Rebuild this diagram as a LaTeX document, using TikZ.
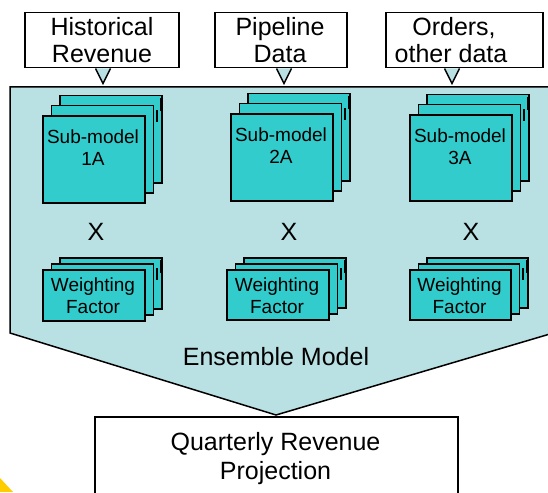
\documentclass[tikz,border=0pt]{standalone}
\usepackage{fontspec}
\setmainfont{Liberation Sans}
\definecolor{pale}{HTML}{B9E0E3}
\definecolor{turq}{HTML}{33CCCC}
\definecolor{gold}{HTML}{FFCC00}

% A stack of three cards: #1 name, (#2,#3) top-left of the front card,
% #4 width, #5 height, #6 offset of the rear card up (pt), #7 label lines,
% #8 baseline of the last label line below the card top
\newcommand{\cardstack}[8]{%
  \node[card, minimum width=#4pt, minimum height=#5pt] (#1back) at (#2+17,#3-#6) {};
  \node[tab, minimum width=3pt, minimum height=13pt] (#1tab) at (#2+17+#4-1,#3-#6+3) {};
  \node[card, minimum width=#4pt, minimum height=#5pt] (#1mid) at (#2+8.5,#3-#6/2) {};
  \node[tab, minimum width=2pt, minimum height=12pt] (#1mark) at (#2+8.5+#4+3,#3-#6/2+5) {};
  \node[card, minimum width=#4pt, minimum height=#5pt] (#1) at (#2,#3) {};
  \node[smalltext, align=center] (#1label) at (#2+#4/2,#3+#8) {#7};
}

\begin{document}
\begin{tikzpicture}[x=1pt,y=-1pt,
  outline/.style={draw=black, line width=1.5pt},
  card/.style={outline, fill=turq, inner sep=0pt, anchor=north west},
  inbox/.style={outline, fill=white, inner sep=0pt, anchor=north west},
  tab/.style={fill=black, inner sep=0pt, anchor=north west},
  bigtext/.style={font=\fontsize{25}{28}\selectfont, inner sep=0pt, anchor=base},
  smalltext/.style={font=\fontsize{19}{21.5}\selectfont, inner sep=0pt, anchor=base},
  pointer/.style={outline, fill=pale}
]
\useasboundingbox (0,0) rectangle (548,492);

% Ensemble model block (pentagon arrow)
\draw[outline, fill=pale] (10,87) -- (560,87) -- (560,331) -- (276,415) -- (10,333) -- cycle;
\node[bigtext] (ensemble) at (276,365) {Ensemble Model};

% Input callouts
\node[inbox, minimum width=154pt, minimum height=55pt] (hist) at (24,12) {};
\node[bigtext] (histA) at (102,36) {Historical};
\node[bigtext] (histB) at (102,63) {Revenue};
\draw[pointer] ([xshift=-7.5pt]hist.south -| 103,0) -- ++(7.5,15) -- ++(7.5,-15);

\node[inbox, minimum width=132pt, minimum height=55pt] (pipe) at (214,12) {};
\node[bigtext] (pipeA) at (280,36) {Pipeline};
\node[bigtext] (pipeB) at (280,63) {Data};
\draw[pointer] ([xshift=-7.5pt]pipe.south -| 284,0) -- ++(7.5,15) -- ++(7.5,-15);

\node[inbox, minimum width=157pt, minimum height=55pt] (orders) at (385,12) {};
\node[bigtext] (ordA) at (454,36) {Orders,};
\node[bigtext] (ordB) at (451,63) {other data};
\draw[pointer] ([xshift=-7.5pt]orders.south -| 452,0) -- ++(7.5,15) -- ++(7.5,-15);

% Sub-model stacks
\cardstack{subA}{42}{115}{102}{87}{20}{Sub-model\\1A}{50}
\cardstack{subB}{230}{113}{102}{87}{20}{Sub-model\\2A}{50}
\cardstack{subC}{409}{114}{102}{86}{20}{Sub-model\\3A}{50}

% Multiplication signs
\node[bigtext] (timesA) at (96,240) {X};
\node[bigtext] (timesB) at (289,240) {X};
\node[bigtext] (timesC) at (471,240) {X};

% Weighting factor stacks
\cardstack{wA}{42}{269}{102}{51}{12}{Weighting\\Factor}{44}
\cardstack{wB}{226}{269}{102}{50}{12}{Weighting\\Factor}{44}
\cardstack{wC}{409}{269}{101}{50}{12}{Weighting\\Factor}{44}

% Output box
\node[inbox, minimum width=363pt, minimum height=90pt] (proj) at (94,416) {};
\node[bigtext] (projA) at (275.5,450) {Quarterly Revenue};
\node[bigtext] (projB) at (275.5,479) {Projection};

% Corner ornament
\fill[gold] (0,478) -- (13,492) -- (0,492) -- cycle;
\end{tikzpicture}
\end{document}
